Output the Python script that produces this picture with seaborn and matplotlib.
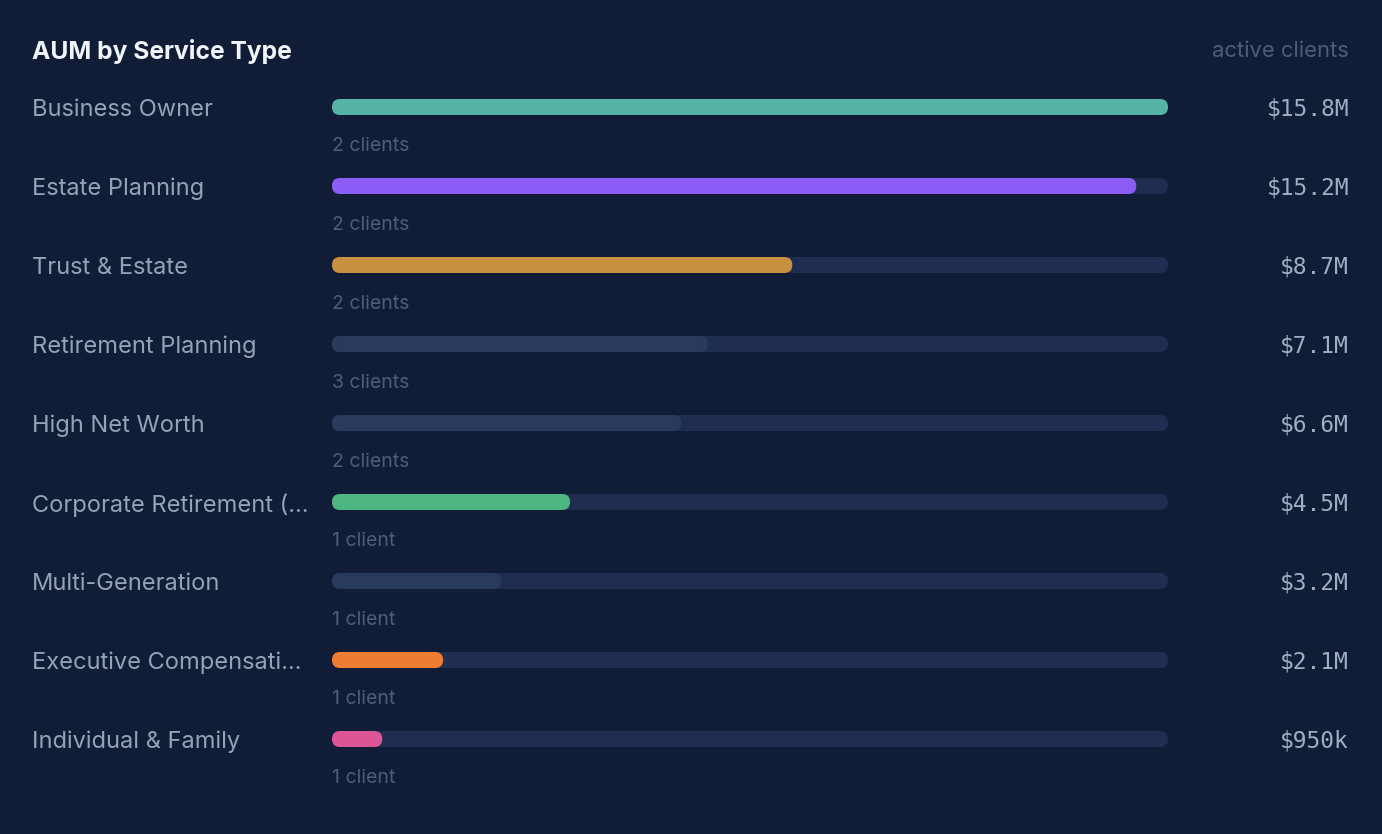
import matplotlib
matplotlib.use("Agg")
import matplotlib.pyplot as plt
import matplotlib.transforms as mtransforms
from matplotlib.patches import FancyBboxPatch
import seaborn as sns
import pandas as pd

# ---- data ----
categories = ["Business Owner", "Estate Planning", "Trust & Estate", "Retirement Planning",
              "High Net Worth", "Corporate Retirement (…", "Multi-Generation",
              "Executive Compensati…", "Individual & Family"]
aum_millions = [15.8, 15.2, 8.7, 7.1, 6.6, 4.5, 3.2, 2.1, 0.95]
value_labels = ["$15.8M", "$15.2M", "$8.7M", "$7.1M", "$6.6M", "$4.5M", "$3.2M", "$2.1M", "$950k"]
client_labels = ["2 clients", "2 clients", "2 clients", "3 clients", "2 clients",
                 "1 client", "1 client", "1 client", "1 client"]
bar_colors = ["#56b4a6", "#8b5cf6", "#c8913f", "#283b5e", "#283b5e",
              "#4db681", "#283b5e", "#ed7d33", "#db5597"]

BG = "#111d37"
TRACK = "#1f2e50"

W, H, DPI = 1382, 834, 100
sns.set_theme(style="white")
plt.rcParams["font.family"] = ["Inter", "DejaVu Sans"]

fig = plt.figure(figsize=(W / DPI, H / DPI), dpi=DPI, facecolor=BG)

n = len(categories)
row_px = 79
top_px = 107 - row_px / 2
bot_px = top_px + row_px * n
left_px, right_px = 332, 1168
ax = fig.add_axes([left_px / W, 1 - bot_px / H, (right_px - left_px) / W, (bot_px - top_px) / H])
ax.set_facecolor(BG)

vmax = max(aum_millions)
df = pd.DataFrame({"cat": categories, "aum": aum_millions, "track": [vmax] * n})
bar_h = 16 / row_px

sns.barplot(data=df, x="track", y="cat", orient="h", color=TRACK, width=bar_h,
            saturation=1, ax=ax, order=categories)
sns.barplot(data=df, x="aum", y="cat", hue="cat", orient="h", palette=bar_colors,
            width=bar_h, saturation=1, ax=ax, order=categories, hue_order=categories,
            legend=False)

ax.set_xlim(0, vmax)
ax.set_ylim(n - 0.5, -0.5)
ax.set_axis_off()

# round the bar ends
x_per_px = vmax / (right_px - left_px)
y_per_px = 1 / row_px
r_px = 8
r_x = r_px * x_per_px
aspect = (r_px * y_per_px) / r_x
for p in list(ax.patches):
    x0, y0 = p.get_x(), p.get_y()
    w, h = p.get_width(), p.get_height()
    fc = p.get_facecolor()
    z = p.get_zorder()
    p.remove()
    ax.add_patch(FancyBboxPatch((x0, y0), w, h,
                                boxstyle=f"round,pad=0,rounding_size={r_x}",
                                mutation_aspect=aspect, fc=fc, ec="none", zorder=z))

trans = mtransforms.blended_transform_factory(fig.transFigure, ax.transData)
for i in range(n):
    ax.text(32 / W, i + 3 / row_px, categories[i], transform=trans, ha="left", va="center",
            fontsize=17, color="#94a3b8")
    ax.text(0, i + 39 / row_px, client_labels[i], ha="left", va="center",
            fontsize=14, color="#4e5d78")
    ax.text(1349 / W, i + 2 / row_px, value_labels[i], transform=trans, ha="right", va="center",
            fontsize=16.5, color="#a0aec4", family=["DejaVu Sans Mono"])

fig.text(32 / W, 1 - 51 / H, "AUM by Service Type", ha="left", va="center",
         fontsize=17.7, fontweight="bold", color="#f1f5f9")
fig.text(1349 / W, 1 - 51 / H, "active clients", ha="right", va="center",
         fontsize=15.8, color="#4e5d78")

fig.savefig("out.png", dpi=DPI, facecolor=BG)
